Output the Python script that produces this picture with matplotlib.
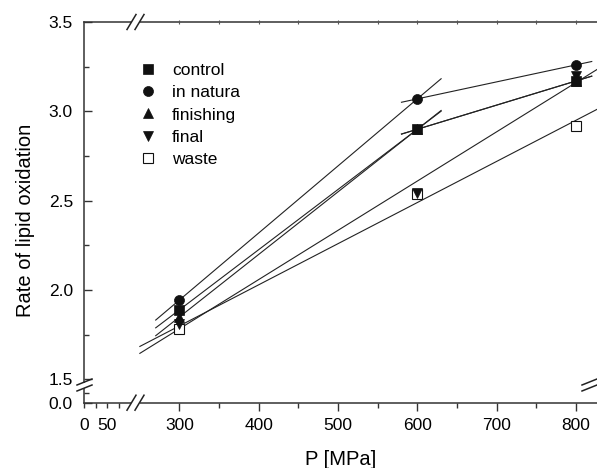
import numpy as np
import matplotlib
matplotlib.use("Agg")
import matplotlib.pyplot as plt
from matplotlib.lines import Line2D

plt.rcParams['font.family'] = ['Liberation Sans', 'DejaVu Sans']

# data
pressure = [300, 600, 800]
control = [1.89, 2.90, 3.17]
in_natura = [1.945, 3.07, 3.26]
finishing = [1.85, 2.90, 3.17]
final = [1.81, 2.545, 3.20]
waste = [1.78, 2.54, 2.92]

series_names = ["control", "in natura", "finishing", "final", "waste"]
series_values = [control, in_natura, finishing, final, waste]
markers = ["s", "o", "^", "v", "s"]
filled = [True, True, True, True, False]
# which points each fitted line uses: two segments or one fit over all points
fit_groups = [[(0, 2), (1, 3)], [(0, 2), (1, 3)], [(0, 2), (1, 3)], [(0, 3)], [(0, 3)]]

# axes geometry in pixels (597 x 468 figure)
FIG_W, FIG_H = 597, 468
X0, X1 = 84, 596.5
Y0, Y1 = 402.7, 22
W, H = X1 - X0, Y0 - Y1


def piecewise(xs, ys):
    xs = np.asarray(xs, float)
    ys = np.asarray(ys, float)

    def make(a, b):
        def f(v):
            v = np.asarray(v, float)
            out = np.interp(v, a, b)
            out = np.where(v < a[0], b[0] + (v - a[0]) * (b[1] - b[0]) / (a[1] - a[0]), out)
            out = np.where(v > a[-1], b[-1] + (v - a[-1]) * (b[-1] - b[-2]) / (a[-1] - a[-2]), out)
            return out
        return f
    return make(xs, ys), make(ys, xs)


# broken x axis: 0..95 compressed, gap, 250..826
x_fwd, x_inv = piecewise([0, 95, 250, 826], [0, 44 / W, 55.85 / W, 1])
# broken y axis: 0..0.45, gap, 1.47..3.5
y_fwd, y_inv = piecewise([0, 0.45, 1.47, 3.5], [0, 17.55 / H, 17.84 / H, 1])


def px2ax(px, py):
    return (px - X0) / W, (Y0 - py) / H


fig = plt.figure(figsize=(FIG_W / 100, FIG_H / 100), dpi=100)
ax = fig.add_axes([X0 / FIG_W, 1 - Y0 / FIG_H, W / FIG_W, H / FIG_H])
ax.set_xscale('function', functions=(x_fwd, x_inv))
ax.set_yscale('function', functions=(y_fwd, y_inv))
ax.set_xlim(0, 826)
ax.set_ylim(0, 3.5)

line_kw = dict(color='#222222', linewidth=0.8, zorder=2)
for vals, groups in zip(series_values, fit_groups):
    for a, b in groups:
        xs = np.array(pressure[a:b], float)
        ys = np.array(vals[a:b], float)
        k, c = np.polyfit(xs, ys, 1)
        ext = 0.1 * (xs.max() - xs.min())
        xl = np.array([xs.min() - ext, xs.max() + ext])
        ax.plot(xl, k * xl + c, **line_kw)

handles = []
# waste (open squares) sits underneath the filled markers
zorders = [4, 4, 4, 4, 3]
for name, vals, m, f, z in zip(series_names, series_values, markers, filled, zorders):
    size = 6.5 if m == "s" else 7.2
    kw = dict(marker=m, linestyle='none', markersize=size,
              markerfacecolor='#111111' if f else 'white',
              markeredgecolor='#111111', markeredgewidth=0.8 if not f else 0.5)
    ax.plot(pressure, vals, zorder=z, **kw)
    handles.append(Line2D([], [], **kw))

# ticks
ax.set_xticks([0, 50, 300, 400, 500, 600, 700, 800])
ax.set_xticks([25, 75, 350, 450, 550, 650, 750], minor=True)
ax.set_yticks([0.0, 1.5, 2.0, 2.5, 3.0, 3.5])
ax.set_yticks([0.25, 1.75, 2.25, 2.75, 3.25], minor=True)
ax.xaxis.set_major_formatter(matplotlib.ticker.FormatStrFormatter('%d'))
ax.yaxis.set_major_formatter(matplotlib.ticker.FormatStrFormatter('%.1f'))
ax.tick_params(axis='x', which='major', direction='out', length=6, width=1, pad=5,
               labelsize=12.5, color='#333333')
ax.tick_params(axis='x', which='minor', direction='out', length=3.5, width=1, color='#333333')
ax.tick_params(axis='y', which='major', direction='in', length=6, width=1, pad=8,
               labelsize=12.5, color='#333333')
ax.tick_params(axis='y', which='minor', direction='in', length=3.5, width=1, color='#333333')
for t in ax.xaxis.get_major_ticks()[:2]:
    t.tick1line.set_markersize(3.5)
ax.spines['right'].set_visible(False)
for s in ['left', 'bottom', 'top']:
    ax.spines[s].set_linewidth(1.1)
    ax.spines[s].set_color('#333333')

# top ticks
ax_top = ax.twiny()
ax_top.set_xscale('function', functions=(x_fwd, x_inv))
ax_top.set_xlim(0, 826)
ax_top.set_xticks(np.arange(300, 801, 50))
ax_top.tick_params(axis='x', direction='inout', length=3, width=0.8, labeltop=False, color='#555555')
for s in ax_top.spines.values():
    s.set_visible(False)

ax.set_xlabel("P [MPa]", fontsize=14.5, labelpad=12)
ax.set_ylabel("Rate of lipid oxidation", fontsize=14.5, labelpad=10)
ax.yaxis.label.set_y(0.48)


# axis break marks
def break_mark(p1, p2, shift, gap):
    # white gap over the spine, then two slashes
    ax.plot(*zip(px2ax(*gap[0]), px2ax(*gap[1])), transform=ax.transAxes, color='white',
            linewidth=3, clip_on=False, zorder=5, solid_capstyle='butt')
    for dx, dy in [(0, 0), shift]:
        a = px2ax(p1[0] + dx, p1[1] + dy)
        b = px2ax(p2[0] + dx, p2[1] + dy)
        ax.plot([a[0], b[0]], [a[1], b[1]], transform=ax.transAxes, color='#222222',
                linewidth=1.1, clip_on=False, zorder=6)


break_mark((127, Y0 + 7.5), (136, Y0 - 7.5), (8, 0), ((131, Y0), (140, Y0)))
break_mark((127, Y1 + 7.5), (136, Y1 - 7.5), (8, 0), ((131, Y1), (140, Y1)))
break_mark((77, 385), (92, 379), (0, 6), ((X0, 382.5), (X0, 388)))
break_mark((582, 385), (597, 379), (0, 6), ((X1, 382.5), (X1, 388)))

lx, ly = px2ax(139, 62.5)
ax.legend(handles, series_names, loc='upper left', bbox_to_anchor=(lx, ly),
          frameon=False, fontsize=12.5, handlelength=1.0, handletextpad=0.9,
          labelspacing=0.42, borderpad=0, borderaxespad=0)

fig.savefig("out.png", dpi=100)
